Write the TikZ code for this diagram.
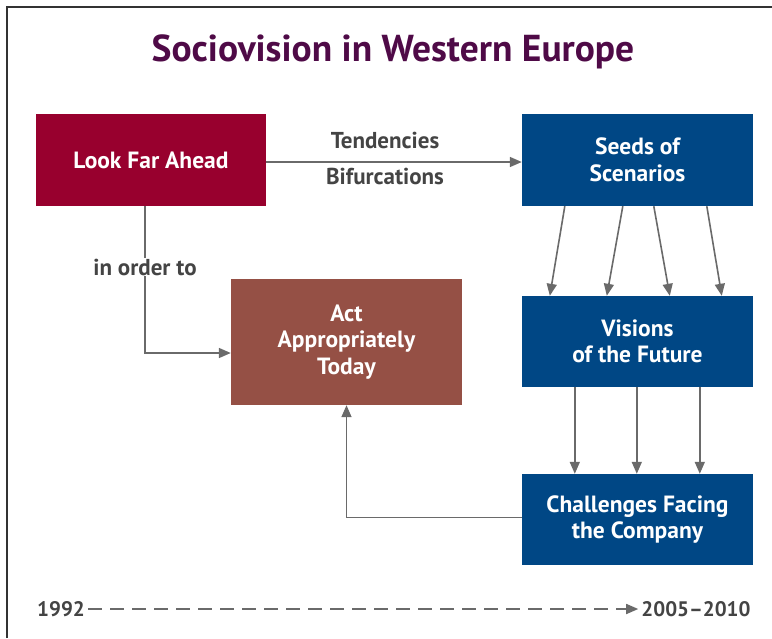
\documentclass[tikz,border=0pt]{standalone}
\usepackage{fontspec}
\setmainfont{PT Sans}
\usetikzlibrary{arrows.meta,calc}
\definecolor{cred}{HTML}{98002E}
\definecolor{cblue}{HTML}{004785}
\definecolor{cbrown}{HTML}{955045}
\definecolor{ctitle}{HTML}{4F0A47}
\definecolor{cline}{HTML}{6A6A6A}
\definecolor{ctext}{HTML}{444444}
\begin{document}
\begin{tikzpicture}[x=1pt,y=-1pt,
  box/.style={rectangle, inner sep=0pt, text=white, align=center,
    font=\bfseries\fontsize{23.5}{26.5}\selectfont},
  lbl/.style={text=ctext, font=\bfseries\fontsize{23}{26}\selectfont, inner sep=1pt},
  yr/.style={text=ctext, font=\bfseries\fontsize{21}{26}\selectfont, inner sep=1pt},
  conn/.style={draw=cline, line width=1.6pt, -{Triangle[length=12pt,width=10pt]}}
]
\useasboundingbox (0,0) rectangle (772,638);
\draw[line width=1.5pt, color=black!80] (7,638) -- (7,7) -- (772,7);

\node[text=ctitle, font=\bfseries\fontsize{37.5}{40}\selectfont] (title) at (393,52) {Sociovision in Western Europe};

\node[box, fill=cred, minimum width=230pt, minimum height=92pt] (look) at (151,160) {Look Far Ahead};
\node[box, fill=cblue, minimum width=231pt, minimum height=92pt] (seeds) at (637.5,160) {Seeds of\\Scenarios};
\node[box, fill=cblue, minimum width=231pt, minimum height=91pt] (vis) at (637.5,341.5) {Visions\\of the Future};
\node[box, fill=cblue, minimum width=231pt, minimum height=91pt] (chal) at (637.5,519.5) {Challenges Facing\\the Company};
\node[box, fill=cbrown, minimum width=231pt, minimum height=126pt] (act) at (346.5,342) {Act\\Appropriately\\Today};

\draw[conn] ([yshift=-2pt]look.east) -- ([yshift=-2pt]seeds.west);
\node[lbl] (tend) at (385,140) {Tendencies};
\node[lbl] (bif) at (385,176) {Bifurcations};

\draw[conn] ([xshift=-6pt]look.south) |- ([yshift=-11pt]act.west);
\node[lbl, fill=white] (iot) at (145,267) {in order to};

\draw[conn] ([xshift=43pt]seeds.south west) -- ([xshift=28pt]vis.north west);
\draw[conn] ([xshift=101pt]seeds.south west) -- ([xshift=85pt]vis.north west);
\draw[conn] ([xshift=132pt]seeds.south west) -- ([xshift=148pt]vis.north west);
\draw[conn] ([xshift=185pt]seeds.south west) -- ([xshift=200pt]vis.north west);

\draw[conn] ([xshift=53pt]vis.south west) -- ([xshift=53pt]chal.north west);
\draw[conn] ([xshift=115pt]vis.south west) -- ([xshift=115pt]chal.north west);
\draw[conn] ([xshift=178pt]vis.south west) -- ([xshift=178pt]chal.north west);

\draw[conn] ([yshift=2pt]chal.west) -| (act.south);

\node[yr] (y1) at (61,609) {1992};
\node[yr] (y2) at (696,609) {2005–2010};
\draw[conn, dash pattern=on 14pt off 8pt] ([xshift=2pt]y1.east) -- ([xshift=-2pt]y2.west);
\end{tikzpicture}
\end{document}
